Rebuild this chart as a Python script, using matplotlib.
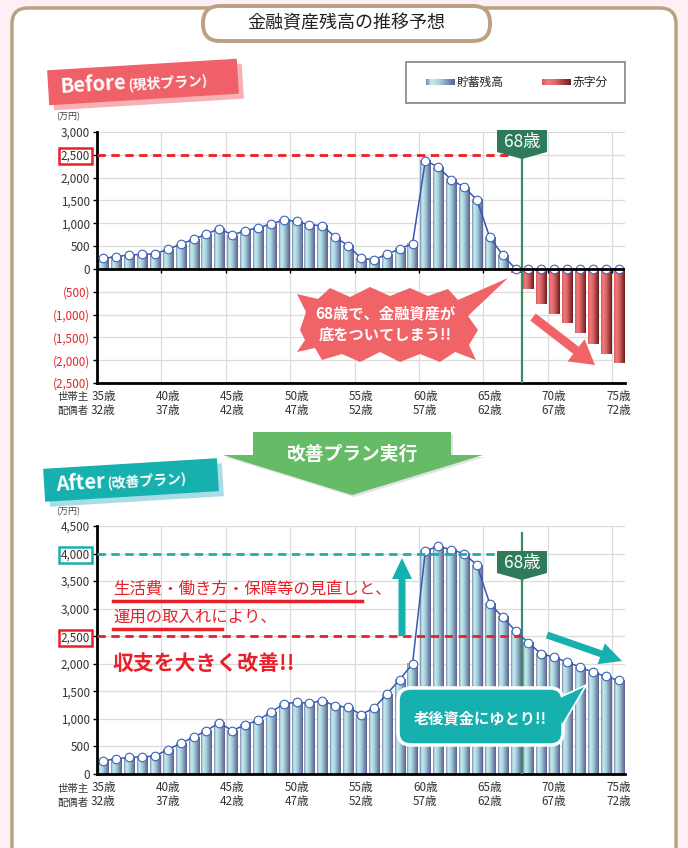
import numpy as np
import matplotlib
matplotlib.use("Agg")
import matplotlib.pyplot as plt
from matplotlib.colors import LinearSegmentedColormap
from matplotlib.patches import FancyBboxPatch, Polygon, Rectangle, FancyArrow

plt.rcParams['font.family'] = ['Noto Sans CJK JP', 'DejaVu Sans']

# 年齢（世帯主）と目盛ラベル
ages = list(range(35, 76))
head_ticks = [35, 40, 45, 50, 55, 60, 65, 70, 75]
spouse_ticks = [32, 37, 42, 47, 52, 57, 62, 67, 72]

# 金融資産残高（万円）
before = [230, 270, 305, 320, 330, 430, 540, 650, 760, 885,
          745, 835, 905, 980, 1075, 1040, 965, 950, 695, 510,
          235, 200, 320, 440, 550, 2375, 2230, 1955, 1790, 1515,
          690, 305, -95, -430, -760, -980, -1190, -1410, -1640, -1870,
          -2070]
after = [242, 273, 303, 309, 327, 442, 557, 667, 788, 927,
         788, 891, 976, 1121, 1273, 1303, 1285, 1333, 1236, 1212,
         1079, 1194, 1450, 1710, 2000, 4050, 4130, 4070, 4000, 3790,
         3090, 2850, 2595, 2380, 2180, 2120, 2030, 1940, 1850, 1770,
         1700]

RED = '#e8202a'
TEAL = '#16b0ae'
GREEN_TAG = '#2e7b5a'

blue_cm = LinearSegmentedColormap.from_list(
    'b', [(0, '#7c86ad'), (0.18, '#c8ecef'), (0.45, '#a8d4de'), (1, '#5a6091')])
red_cm = LinearSegmentedColormap.from_list(
    'r', [(0, '#d65a5c'), (0.2, '#f27c7d'), (0.5, '#d66263'), (1, '#6c1c1e')])
grad = np.linspace(0, 1, 64).reshape(1, -1)

W, H = 688, 848
fig = plt.figure(figsize=(W / 100, H / 100), dpi=100, facecolor='#fcf0f4')


def px_axes(x0, y0, x1, y1):
    return fig.add_axes([x0 / W, 1 - y1 / H, (x1 - x0) / W, (y1 - y0) / H])


bg = px_axes(0, 0, W, H)
bg.set_xlim(0, W)
bg.set_ylim(H, 0)
bg.axis('off')
bg.set_zorder(0)

# カード
bg.add_patch(FancyBboxPatch((14, 10), 662, 880, boxstyle='round,pad=0,rounding_size=16',
                            fc='#e9e4e0', ec='none'))
bg.add_patch(FancyBboxPatch((12, 8), 664, 880, boxstyle='round,pad=0,rounding_size=16',
                            fc='white', ec='#b9a181', lw=2.5))


def draw_chart(ax, vals, ymin, ymax):
    x = np.arange(len(vals))
    ax.set_facecolor('none')
    for xi, v in zip(x, vals):
        cm = blue_cm if v >= 0 else red_cm
        ax.imshow(grad, cmap=cm, extent=(xi - 0.39, xi + 0.39, min(0, v), max(0, v)),
                  aspect='auto', zorder=2, interpolation='bilinear')
    ax.plot(x, np.maximum(vals, 0), color='#3359b0', lw=1.1, marker='o', ms=6.2,
            mfc='white', mec='#3d62b8', mew=0.8, zorder=6)
    ax.set_xlim(-0.5, len(vals) - 0.5)
    ax.set_ylim(ymin, ymax)

    ax.set_xticks(np.arange(-0.5, len(vals), 5), minor=True)
    ax.grid(True, which='minor', axis='x', color='#dcdcdc', lw=0.9)
    yt = list(range(ymin, ymax + 1, 500))
    ylabels = [f"{v:,}" if v >= 0 else f"({-v:,})" for v in yt]
    ax.set_yticks(yt, ylabels)
    ax.grid(True, which='major', axis='y', color='#dcdcdc', lw=0.9)
    ax.set_axisbelow(True)

    pos = [ages.index(a) for a in head_ticks]
    ax.set_xticks(pos, [f"{a}歳\n{s}歳" for a, s in zip(head_ticks, spouse_ticks)])
    ax.tick_params(axis='x', which='both', length=0, labelsize=8.4, pad=5,
                   labelcolor='#333333')
    for t in ax.get_xticklabels():
        t.set_linespacing(1.15)
    ax.tick_params(axis='y', length=3, width=1, labelsize=8.4, pad=2, labelcolor='#333333')
    for s in ['top', 'right']:
        ax.spines[s].set_visible(False)
    for s in ['left', 'bottom']:
        ax.spines[s].set_linewidth(2)
        ax.spines[s].set_color('black')
    ax.plot([32.5, 32.5], [ymin, ymax * 0.97], color='#3b8c63', lw=1.6, zorder=5)


# Before
ax1 = px_axes(97, 132, 625, 383)
ax1.set_zorder(1)
draw_chart(ax1, before, -2500, 3000)
ax1.axhline(0, color='black', lw=2, zorder=7)
ax1.vlines(np.arange(4.5, 41, 5), -90, 0, color='black', lw=1, zorder=7)
ax1.hlines(2500, -0.5, 31.4, color=RED, lw=2, linestyles=(0, (3, 2)), zorder=7)
for t in ax1.get_yticklabels():
    if t.get_text().startswith('('):
        t.set_color(RED)
    if t.get_text() == '2,500':
        t.set_bbox(dict(fc='white', ec=RED, lw=1.8, pad=1.2))

# After
ax2 = px_axes(97, 526, 625, 774)
ax2.set_zorder(1)
draw_chart(ax2, after, 0, 4500)
ax2.hlines(4000, -0.5, 30.7, color=TEAL, lw=2, linestyles=(0, (3, 2)), zorder=7)
ax2.hlines(2500, -0.5, 32.4, color=RED, lw=2, linestyles=(0, (3, 2)), zorder=7)
for t in ax2.get_yticklabels():
    if t.get_text() == '2,500':
        t.set_bbox(dict(fc='white', ec=RED, lw=1.8, pad=1.2))
    if t.get_text() == '4,000':
        t.set_bbox(dict(fc='white', ec=TEAL, lw=1.8, pad=1.2))

# 装飾レイヤー
ov = px_axes(0, 0, W, H)
ov.set_xlim(0, W)
ov.set_ylim(H, 0)
ov.axis('off')
ov.set_zorder(5)

# タイトル
ov.add_patch(FancyBboxPatch((203, 6), 287, 35, boxstyle='round,pad=0,rounding_size=17',
                            fc='white', ec='#b9a181', lw=2.8))
ov.text(346, 23.5, '金融資産残高の推移予想', ha='center', va='center', fontsize=13,
        color='#222222')


def tag(cx, cy, w, h, fc, shadow, big, small):
    ov.add_patch(Rectangle((cx - w / 2 + 5, cy - h / 2 + 5), w, h, angle=-3.5,
                           rotation_point='center', fc=shadow, ec='none'))
    ov.add_patch(Rectangle((cx - w / 2, cy - h / 2), w, h, angle=-3.5,
                           rotation_point='center', fc=fc, ec='none'))
    k = np.tan(np.radians(3.5))
    x0 = cx - w / 2 + 12
    t = ov.text(x0, cy + 6 + (cx - x0) * k, big, ha='left', va='baseline', fontsize=14.5,
                fontweight='bold', color='white', rotation=3.5, rotation_mode='anchor')
    fig.canvas.draw()
    bb = t.get_window_extent()
    x1 = x0 + bb.width / np.cos(np.radians(3.5)) * (W / fig.bbox.width) + 1
    ov.text(x1, cy + 6 + (cx - x1) * k, small, ha='left', va='baseline', fontsize=10,
            fontweight='bold', color='white', rotation=3.5, rotation_mode='anchor')


tag(143, 82, 190, 35, '#f06068', '#f7b0b4', 'Before', '(現状プラン)')
tag(131, 480, 174, 33, TEAL, '#a8dde6', 'After', '(改善プラン)')

# 凡例
ov.add_patch(Rectangle((406, 62), 219, 41, fc='white', ec='#8c8c8c', lw=1.3))
ov.imshow(grad, cmap=blue_cm, extent=(426, 455, 85, 79), aspect='auto', zorder=3)
ov.text(457, 82, '貯蓄残高', ha='left', va='center', fontsize=8.5, color='#222222')
ov.imshow(grad, cmap=red_cm, extent=(542, 571, 85, 79), aspect='auto', zorder=3)
ov.text(573, 82, '赤字分', ha='left', va='center', fontsize=8.5, color='#222222')
ov.set_xlim(0, W)
ov.set_ylim(H, 0)


def age_tag(cx, top):
    ov.add_patch(Polygon([(cx - 25, top), (cx + 25, top), (cx + 25, top + 22),
                          (cx, top + 29), (cx - 25, top + 22)], closed=True,
                         fc=GREEN_TAG, ec='none', zorder=4))
    ov.text(cx, top + 12, '68歳', ha='center', va='center', fontsize=12.5, color='white',
            zorder=5)


age_tag(522, 130)
age_tag(522, 551)

# 吹き出し（Before）
burst = [(300, 330), (306, 312), (297, 294), (318, 299), (330, 288), (350, 297),
         (370, 287), (390, 296), (410, 288), (428, 296), (448, 289), (458, 300),
         (508, 278), (468, 316), (478, 330), (469, 345), (476, 360), (455, 352),
         (440, 362), (420, 354), (400, 362), (380, 352), (360, 362), (342, 354),
         (322, 360), (315, 348), (297, 352), (305, 340)]
ov.add_patch(Polygon(burst, closed=True, fc='#f06468', ec='none', zorder=4))
ov.text(385, 313, '68歳で、金融資産が', ha='center', va='center', fontsize=11,
        fontweight='bold', color='white', zorder=5)
ov.text(385, 335, '底をついてしまう!!', ha='center', va='center', fontsize=11,
        fontweight='bold', color='white', zorder=5)
ov.add_patch(FancyArrow(533, 317, 62, 48, width=9, head_width=28, head_length=24,
                        length_includes_head=True, fc='#f06468', ec='none', zorder=4))

# 改善プラン実行
ov.add_patch(Polygon([(255, 434), (453, 434), (453, 457), (485, 457), (354, 497),
                      (225, 457), (255, 457)], closed=True, fc='#e2e2e2', ec='none',
                     zorder=3))
ov.add_patch(Polygon([(253, 432), (451, 432), (451, 455), (483, 455), (352, 495),
                      (223, 455), (253, 455)], closed=True, fc='#66bc66', ec='none',
                     zorder=4))
ov.text(353, 454, '改善プラン実行', ha='center', va='center', fontsize=13.5,
        fontweight='bold', color='white', zorder=5)

# After の注記
ov.text(113, 589, '生活費・働き方・保障等の見直しと、', ha='left', va='center',
        fontsize=11.8, color=RED, zorder=5)
ov.plot([113, 362], [601, 601], color=RED, lw=2.5, zorder=5)
ov.text(113, 617, '運用の取入れにより、', ha='left', va='center', fontsize=11.8,
        color=RED, zorder=5)
ov.plot([113, 222], [629, 629], color=RED, lw=2.5, zorder=5)
ov.text(113, 663, '収支を大きく改善!!', ha='left', va='center', fontsize=15,
        fontweight='bold', color=RED, zorder=5)

ov.add_patch(FancyArrow(402, 636, 0, -78, width=7, head_width=20, head_length=21,
                        length_includes_head=True, fc=TEAL, ec='none', zorder=4))
ov.add_patch(FancyArrow(547, 635, 75, 26, width=7, head_width=22, head_length=22,
                        length_includes_head=True, fc=TEAL, ec='none', zorder=4))

tail = [(556, 700), (584, 687), (562, 724)]
ov.add_patch(Polygon(tail, closed=True, fc=TEAL, ec='white', lw=2.5, zorder=4))
ov.add_patch(FancyBboxPatch((398, 688), 165, 57, boxstyle='round,pad=0,rounding_size=13',
                            fc=TEAL, ec='white', lw=2.5, zorder=4))
ov.add_patch(Polygon(tail, closed=True, fc=TEAL, ec='none', zorder=4))
ov.text(480, 718, '老後資金にゆとり!!', ha='center', va='center', fontsize=11,
        fontweight='bold', color='white', zorder=5)

# 軸まわりのラベル
for y0 in (117, 512):
    ov.text(68, y0, '(万円)', ha='center', va='center', fontsize=6.5, color='#444444')
for y0 in (397, 789):
    ov.text(57, y0, '世帯主', ha='left', va='center', fontsize=7.5, color='#333333')
    ov.text(57, y0 + 14, '配偶者', ha='left', va='center', fontsize=7.5, color='#333333')

fig.savefig('out.png', dpi=100, facecolor=fig.get_facecolor())
